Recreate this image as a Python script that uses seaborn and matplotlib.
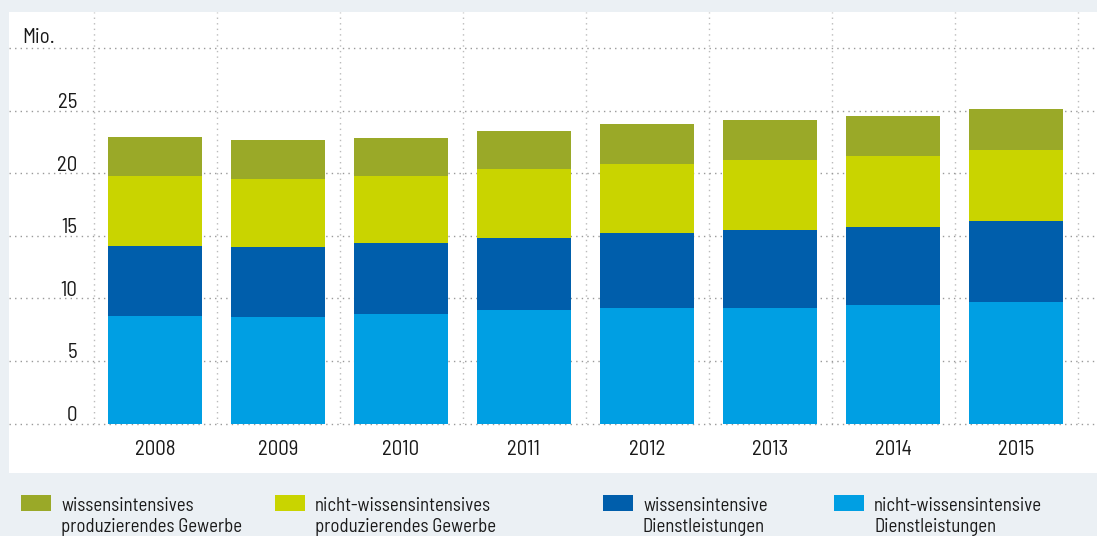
import numpy as np
import pandas as pd
import matplotlib
matplotlib.use("Agg")
import matplotlib.pyplot as plt
import seaborn as sns
from matplotlib.patches import Rectangle
from matplotlib.transforms import ScaledTranslation

# Daten (Mio. Erwerbstätige)
jahre = ["2008", "2009", "2010", "2011", "2012", "2013", "2014", "2015"]
nicht_wiss_dl = [8.6, 8.5, 8.75, 9.05, 9.2, 9.2, 9.45, 9.7]
wiss_dl = [5.6, 5.6, 5.65, 5.75, 6.0, 6.25, 6.25, 6.45]
nicht_wiss_pg = [5.6, 5.45, 5.35, 5.5, 5.55, 5.6, 5.65, 5.7]
wiss_pg = [3.1, 3.1, 3.05, 3.1, 3.2, 3.2, 3.25, 3.25]

labels = ["wissensintensives\nproduzierendes Gewerbe",
          "nicht-wissensintensives\nproduzierendes Gewerbe",
          "wissensintensive\nDienstleistungen",
          "nicht-wissensintensive\nDienstleistungen"]
farben = ["#9AA928", "#C9D400", "#005EAB", "#009FE3"]
bg = "#EBF0F4"
textfarbe = "#1a1a1a"

sns.set_style("white")
plt.rcParams["font.family"] = ["Barlow Semi Condensed", "Roboto Condensed", "DejaVu Sans"]

df = pd.DataFrame({"jahr": jahre, "ndl": nicht_wiss_dl, "wdl": wiss_dl,
                   "npg": nicht_wiss_pg, "wpg": wiss_pg})
# kumulierte Summen fuer gestapelte Balken
df["s1"] = df["ndl"]
df["s2"] = df["s1"] + df["wdl"]
df["s3"] = df["s2"] + df["npg"]
df["s4"] = df["s3"] + df["wpg"]

W, H = 1097, 536
fig = plt.figure(figsize=(W / 100, H / 100), dpi=100, facecolor=bg)
# weisses Panel
fig.add_artist(Rectangle((9 / W, 1 - 473 / H), (W - 9) / W, (473 - 12) / H,
                         transform=fig.transFigure, facecolor="white",
                         edgecolor="none", zorder=0))

ax = fig.add_axes([9 / W, 1 - 423.5 / H, (W - 9) / W, (423.5 - 12) / H])
ax.set_facecolor("none")

for col, farbe in zip(["s4", "s3", "s2", "s1"], farben):
    sns.barplot(data=df, x="jahr", y=col, color=farbe, width=0.765,
                saturation=1, linewidth=0, ax=ax, zorder=3)

ax.set_xlim((9 - 155) / 123, (W - 155) / 123)
ax.set_ylim(0, (423.5 - 12) / 12.52)
ax.set_xlabel("")
ax.set_ylabel("")
for s in ax.spines.values():
    s.set_visible(False)

ax.set_yticks([0, 5, 10, 15, 20, 25, 30])
ax.set_yticklabels(["0", "5", "10", "15", "20", "25", ""])
ax.set_xticks(range(len(jahre)))
ax.set_xticks(np.arange(-0.5, len(jahre), 1), minor=True)
ax.tick_params(axis="both", which="both", length=0)
ax.tick_params(axis="y", pad=-49, labelsize=15, labelcolor=textfarbe)
ax.tick_params(axis="x", pad=12, labelsize=15, labelcolor=textfarbe)

ax.grid(axis="y", which="major", color="#999999", linestyle=(0, (1, 3)), linewidth=1)
ax.grid(axis="x", which="minor", color="#BBBBBB", linestyle=(0, (1, 3)), linewidth=1)
ax.set_axisbelow(True)
for ln in ax.get_ygridlines():
    ln.set_clip_on(False)

off = ScaledTranslation(0, 0.10, fig.dpi_scale_trans)
for lbl in ax.get_yticklabels():
    lbl.set_transform(lbl.get_transform() + off)

ax.text((22 - 9) / (W - 9), 30, "Mio.", fontsize=15, color=textfarbe,
        va="center", ha="left", transform=ax.get_yaxis_transform() + off)

# Legende
xs = [21, 275, 603, 834]
for x0, lab, farbe in zip(xs, labels, farben):
    fig.add_artist(Rectangle((x0 / W, 1 - 511 / H), 30 / W, 16 / H,
                             transform=fig.transFigure, facecolor=farbe,
                             edgecolor="none"))
    fig.text((x0 + 40) / W, 1 - 497 / H, lab, fontsize=13.5, color=textfarbe,
             va="top", ha="left", linespacing=1.2)

fig.savefig("out.png", dpi=100, facecolor=bg)
